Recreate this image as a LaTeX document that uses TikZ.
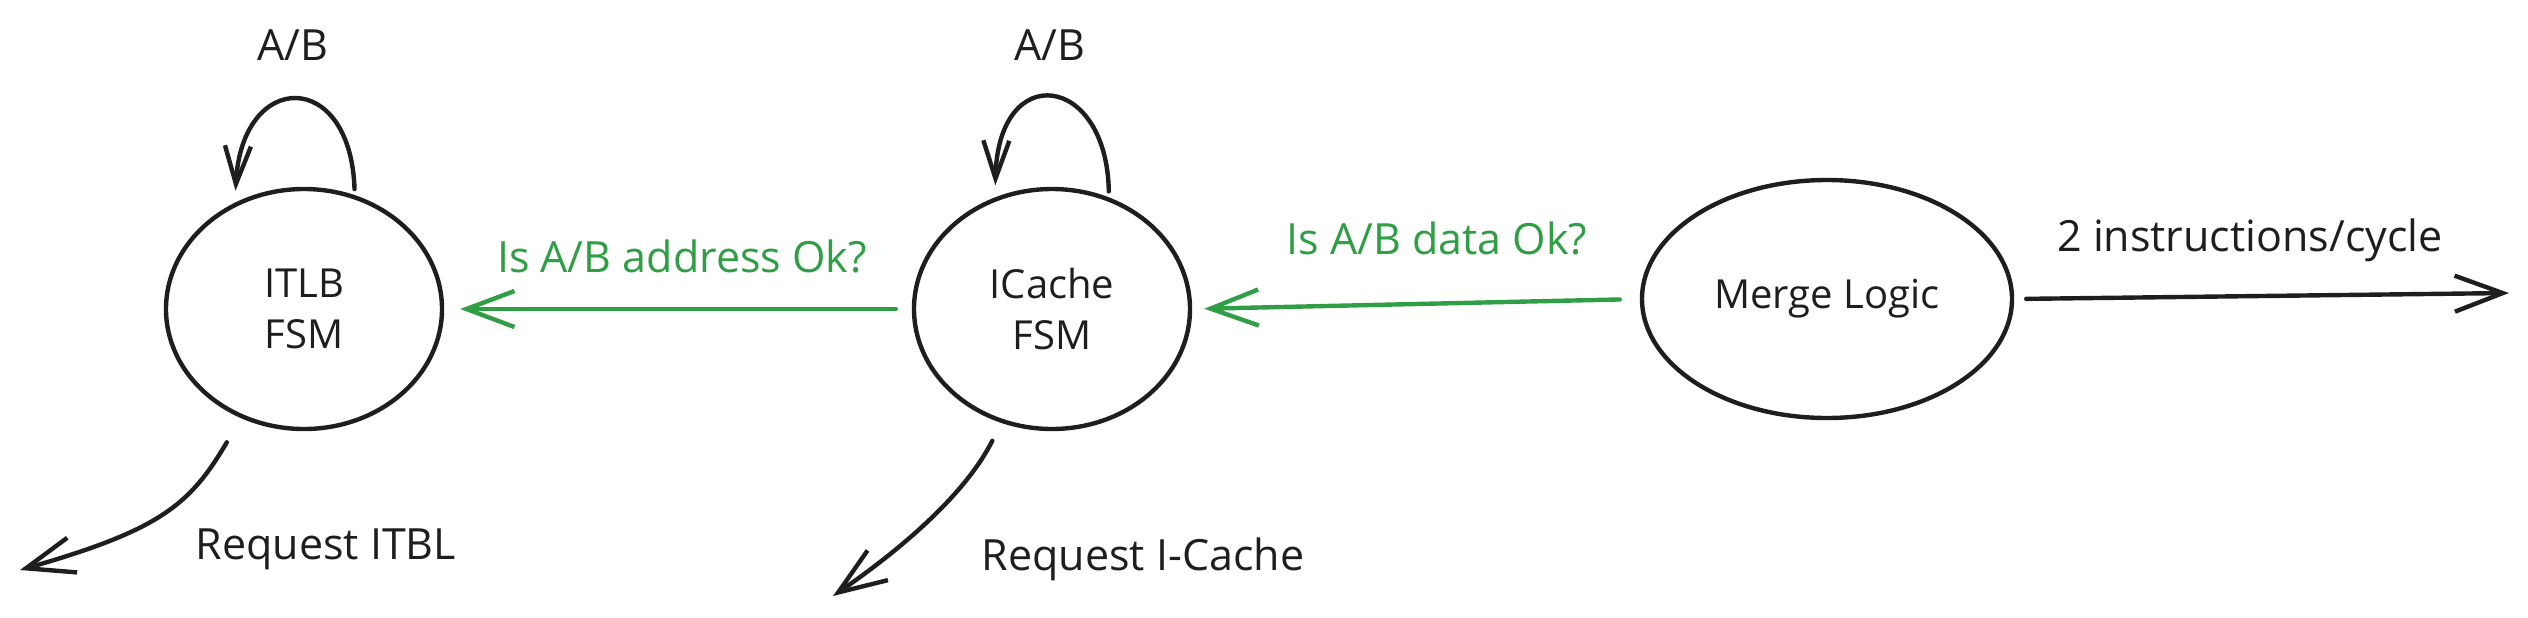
\documentclass[tikz,border=0pt]{standalone}
\usepackage{fontspec}
\setmainfont{Open Sans}
\usetikzlibrary{arrows.meta,shapes.geometric}
\definecolor{ink}{HTML}{1E1E1E}
\definecolor{exgreen}{HTML}{2F9E44}
\begin{document}
\begin{tikzpicture}[x=0.5pt,y=-0.5pt,
  fsm/.style={draw=ink, line width=2.2pt, ellipse, inner sep=0pt, align=center,
              font=\fontsize{20}{25.5}\selectfont, text=ink},
  lbl/.style={font=\fontsize{21.5}{24}\selectfont, text=ink, inner sep=0pt},
  glbl/.style={lbl, text=exgreen},
  conn/.style={draw=ink, line width=2.2pt, line cap=round, line join=round,
               -{Straight Barb[length=24pt,width=18pt]}},
  gconn/.style={conn, draw=exgreen},
  loopconn/.style={conn, -{Straight Barb[length=19pt,width=13pt]}}
]
\useasboundingbox (0,0) rectangle (2528,617);

\node[fsm, minimum width=138pt, minimum height=120pt] (itlb) at (304,309) {ITLB\\FSM};
\node[fsm, minimum width=138pt, minimum height=120pt] (icache) at (1052,309) {ICache\\FSM};
\node[fsm, minimum width=185pt, minimum height=119pt] (merge) at (1827,299) {Merge Logic};

\coordinate (out) at (2509,293);
\coordinate (req1) at (20,570);
\coordinate (req2) at (833,596);

% self loops
\draw[loopconn, shorten <=3pt, shorten >=6pt] (itlb.66) .. controls +(-4,-127) and +(7,-133) .. (itlb.123);
\draw[loopconn, shorten <=3pt, shorten >=6pt] (icache.63) .. controls +(-2,-124) and +(3,-138) .. (icache.117);

% green arrows
\draw[gconn, shorten <=8pt, shorten >=8pt] (icache.west) -- (itlb.east);
\draw[gconn, shorten <=10pt, shorten >=6pt] (merge.west) -- (icache.east);

% output
\draw[conn, shorten <=6pt] (merge.east) -- (out);

% requests
\draw[conn, shorten <=14pt] (itlb.-120) .. controls (190,505) and (160,530) .. (req1);
\draw[conn, shorten <=10pt] (icache.-114) .. controls (965,495) and (900,550) .. (req2);

% labels
\node[lbl] (ab1) at (293,45) {A/B};
\node[lbl] (ab2) at (1050,45) {A/B};
\node[glbl] (q1) at (682,256) {Is A/B address Ok?};
\node[glbl] (q2) at (1437,238) {Is A/B data Ok?};
\node[lbl] (r1) at (326,549) {Request ITBL};
\node[lbl] (r2) at (1143,559) {Request I-Cache};
\node[lbl] (ipc) at (2250,240) {2 instructions/cycle};
\end{tikzpicture}
\end{document}
